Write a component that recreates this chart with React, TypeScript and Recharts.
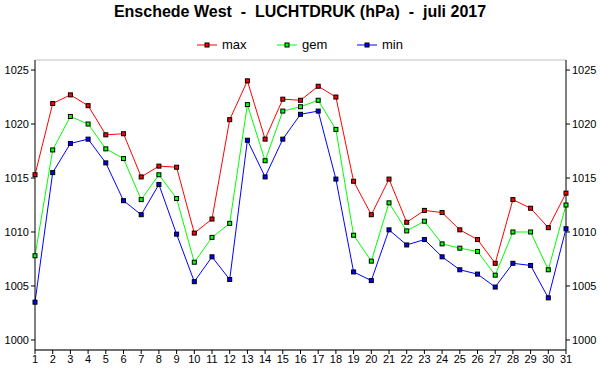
import React from 'react'
import {
  LineChart, Line, XAxis, YAxis, CartesianGrid
} from 'recharts'

const days = [
  1, 2, 3, 4, 5, 6, 7, 8, 9, 10, 11, 12, 13, 14, 15, 16,
  17, 18, 19, 20, 21, 22, 23, 24, 25, 26, 27, 28, 29, 30, 31,
]

const maxP = [
  1015.3, 1021.9, 1022.7, 1021.7, 1019.0, 1019.1, 1015.1, 1016.1, 1016.0, 1009.9,
  1011.2, 1020.4, 1024.0, 1018.6, 1022.3, 1022.2, 1023.5, 1022.5, 1014.7, 1011.6,
  1014.9, 1010.9, 1012.0, 1011.8, 1010.2, 1009.3, 1007.1, 1013.0, 1012.2, 1010.4, 1013.6,
]

const gemP = [
  1007.8, 1017.6, 1020.7, 1020.0, 1017.7, 1016.8, 1013.0, 1015.3, 1013.1, 1007.2,
  1009.5, 1010.8, 1021.8, 1016.6, 1021.2, 1021.6, 1022.2, 1019.5, 1009.7, 1007.3,
  1012.7, 1010.1, 1011.0, 1008.9, 1008.5, 1008.2, 1006.0, 1010.0, 1010.0, 1006.5, 1012.5,
]

const minP = [
  1003.5, 1015.5, 1018.2, 1018.6, 1016.4, 1012.9, 1011.6, 1014.4, 1009.8, 1005.4,
  1007.7, 1005.6, 1018.5, 1015.1, 1018.6, 1020.9, 1021.2, 1014.9, 1006.3, 1005.5,
  1010.2, 1008.8, 1009.3, 1007.7, 1006.5, 1006.1, 1004.9, 1007.1, 1006.9, 1003.9, 1010.3,
]

const yTicks = [1000, 1005, 1010, 1015, 1020, 1025]

const series = [
  { key: 'max', color: '#FF0000' },
  { key: 'gem', color: '#00FF00' },
  { key: 'min', color: '#0000FF' },
]

const data = days.map((d, i) => ({ day: d, max: maxP[i], gem: gemP[i], min: minP[i] }))

const FONT = '"Liberation Sans", Arial, sans-serif'
const tickStyle = { fontSize: 11, fill: '#000', fontFamily: FONT }

const squareDot = (color: string) => (props: any) => {
  const { cx, cy, index } = props
  if (cx == null || cy == null) return null
  return (
    <rect
      key={`d-${color}-${index}`}
      x={cx - 2}
      y={cy - 2}
      width={4}
      height={4}
      fill={color}
      stroke="#000"
      strokeWidth={1}
    />
  )
}

export default function App() {
  return (
    <div style={{ position: 'relative', width: 600, height: 390, background: '#fff', fontFamily: FONT }}>
      <style>{`body{margin:0}`}</style>
      <div
        style={{
          position: 'absolute', top: 3, left: 0, width: 600, textAlign: 'center',
          fontSize: 16, fontWeight: 'bold', whiteSpace: 'pre', color: '#000',
        }}
      >
        {'Enschede West  -  LUCHTDRUK (hPa)  -  juli 2017'}
      </div>
      <div
        style={{
          position: 'absolute', top: 37, left: 197, display: 'flex',
          fontSize: 13, color: '#000', lineHeight: '16px',
        }}
      >
        {series.map((s) => (
          <div key={s.key} style={{ display: 'flex', alignItems: 'center', width: 80 }}>
            <svg width={20} height={8} style={{ marginRight: 5 }}>
              <line x1={0} y1={4} x2={20} y2={4} stroke={s.color} strokeWidth={1} />
              <rect x={8} y={2} width={4} height={4} fill={s.color} stroke="#000" strokeWidth={1} />
            </svg>
            <span>{s.key}</span>
          </div>
        ))}
      </div>
      <div style={{ position: 'absolute', top: 0, left: 0 }}>
        <LineChart width={600} height={390} data={data} margin={{ top: 60, right: 0, bottom: 0, left: 0 }}>
          <CartesianGrid vertical={false} stroke="#C0C0C0" />
          <XAxis
            dataKey="day"
            type="number"
            domain={[1, 31]}
            ticks={days}
            interval={0}
            height={40}
            tick={tickStyle}
            tickSize={4}
            tickMargin={1}
            stroke="#000"
          />
          <XAxis
            xAxisId="top"
            orientation="top"
            dataKey="day"
            type="number"
            domain={[1, 31]}
            height={0}
            tick={false}
            tickLine={false}
            stroke="#000"
          />
          <YAxis
            yAxisId="left"
            domain={[999.07, 1025.93]}
            ticks={yTicks}
            width={35}
            tick={tickStyle}
            tickSize={4}
            tickMargin={2}
            stroke="#000"
            allowDataOverflow
          />
          <YAxis
            yAxisId="right"
            orientation="right"
            domain={[999.07, 1025.93]}
            ticks={yTicks}
            width={34}
            tick={tickStyle}
            tickSize={4}
            tickMargin={2}
            stroke="#000"
            allowDataOverflow
          />
          {series.map((s) => (
            <Line
              key={s.key}
              yAxisId="left"
              dataKey={s.key}
              type="linear"
              stroke={s.color}
              strokeWidth={1}
              dot={squareDot(s.color)}
              activeDot={false}
              isAnimationActive={false}
            />
          ))}
        </LineChart>
      </div>
    </div>
  )
}
